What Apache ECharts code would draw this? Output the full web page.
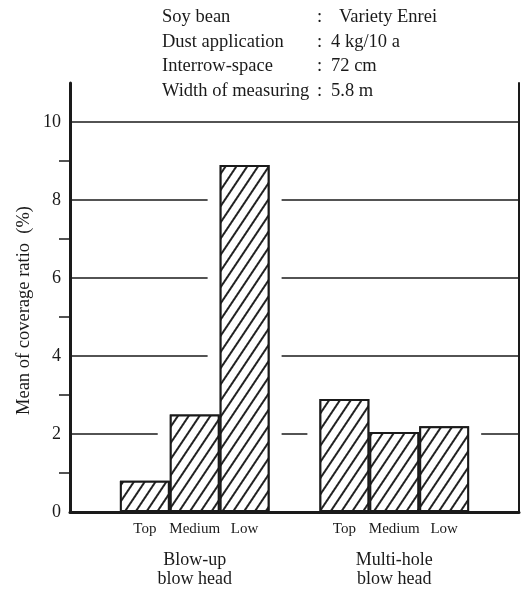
<!DOCTYPE html>
<html>
<head>
<meta charset="utf-8">
<script src="https://cdn.jsdelivr.net/npm/echarts@6/dist/echarts.min.js"></script>
<style>html,body{margin:0;padding:0;background:#fff;}#c{width:531px;height:589px;}</style>
</head>
<body>
<div id="c"></div>
<script>
// ---- data ----
const slotLabels = ['', 'Top', 'Medium', 'Low', '', 'Top', 'Medium', 'Low', ''];
const blowUpValues = [0.8, 2.5, 8.9];
const multiHoleValues = [2.9, 2.05, 2.2];
const groupNames = ['Blow-up\nblow head', 'Multi-hole\nblow head'];
const yTicks = [0, 2, 4, 6, 8, 10];
const infoKeys = ['Soy bean', 'Dust application', 'Interrow-space', 'Width of measuring'];
const infoValues = ['Variety Enrei', '4 kg/10 a', '72 cm', '5.8 m'];
const yAxisName = 'Mean of coverage ratio  (%)';

// ---- build ----
const values = [null].concat(blowUpValues, [null], multiHoleValues, [null]);
const groupAt = {2: 0, 6: 1};
const SERIF = '"Liberation Serif", "DejaVu Serif", serif';
const INK = '#1a1a1a';

const chart = echarts.init(document.getElementById('c'), null, {renderer: 'canvas'});

const graphics = [];
infoKeys.forEach((k, i) => {
  graphics.push({type: 'text', left: 162, top: 8 + i * 24.5,
    style: {text: k, font: '18.5px ' + SERIF, fill: INK}});
  graphics.push({type: 'text', left: 317, top: 8 + i * 24.5,
    style: {text: ':', font: '18.5px ' + SERIF, fill: INK}});
  graphics.push({type: 'text', left: 331 + (i === 0 ? 8 : 0), top: 8 + i * 24.5,
    style: {text: infoValues[i], font: '18.5px ' + SERIF, fill: INK}});
});

chart.setOption({
  backgroundColor: '#fff',
  animation: false,
  graphic: graphics,
  grid: {left: 70, right: 12, top: 83, bottom: 76, containLabel: false},
  xAxis: [{
    type: 'category', data: slotLabels, z: 10,
    axisLine: {lineStyle: {color: INK, width: 3}},
    axisTick: {show: false},
    splitLine: {show: false},
    axisLabel: {interval: 0, margin: 10, color: INK, fontFamily: SERIF, fontSize: 15}
  }, {
    type: 'category', data: slotLabels, position: 'bottom',
    axisLine: {show: false}, axisTick: {show: false}, splitLine: {show: false},
    axisLabel: {
      interval: 0, margin: 39, color: INK, fontFamily: SERIF, fontSize: 18, lineHeight: 19,
      formatter: (v, idx) => (groupAt[idx] !== undefined ? groupNames[groupAt[idx]] : '')
    }
  }],
  yAxis: [{
    type: 'value', min: 0, max: 11, interval: 2, z: 0,
    name: yAxisName, nameLocation: 'middle', nameGap: 36, nameMoveOverlap: false,
    nameTextStyle: {fontFamily: SERIF, fontSize: 18.5, color: INK, padding: [0, 26, 0, 0]},
    axisLine: {show: true, lineStyle: {color: INK, width: 3}},
    axisTick: {show: false},
    minorTick: {show: true, splitNumber: 2, length: 11, lineStyle: {color: INK, width: 1.5}},
    axisLabel: {color: INK, fontFamily: SERIF, fontSize: 18, margin: 9, showMaxLabel: false,
      formatter: v => (yTicks.indexOf(v) >= 0 ? String(v) : '')},
    splitLine: {show: true, showMaxLine: false, lineStyle: {color: INK, width: 1.5}}
  }, {
    type: 'value', min: 0, max: 11, interval: 2, position: 'right',
    axisLine: {show: true, lineStyle: {color: INK, width: 2}},
    axisTick: {show: false}, axisLabel: {show: false}, splitLine: {show: false}
  }],
  series: [{
    // white halo that interrupts the grid lines around each bar
    type: 'bar', xAxisIndex: 1, yAxisIndex: 0, data: values, barWidth: 74,
    itemStyle: {color: '#fff'}, silent: true, z: 1
  }, {
    type: 'bar', xAxisIndex: 0, yAxisIndex: 0, data: values, barWidth: '100%', z: 2,
    itemStyle: {
      color: '#fff', borderColor: INK, borderWidth: 2,
      decal: {symbol: 'rect', symbolSize: 1, color: '#222', backgroundColor: '#fff',
        dashArrayX: [1, 0], dashArrayY: [1.4, 7], rotation: -Math.PI / 3.2}
    }
  }]
});
</script>
</body>
</html>
